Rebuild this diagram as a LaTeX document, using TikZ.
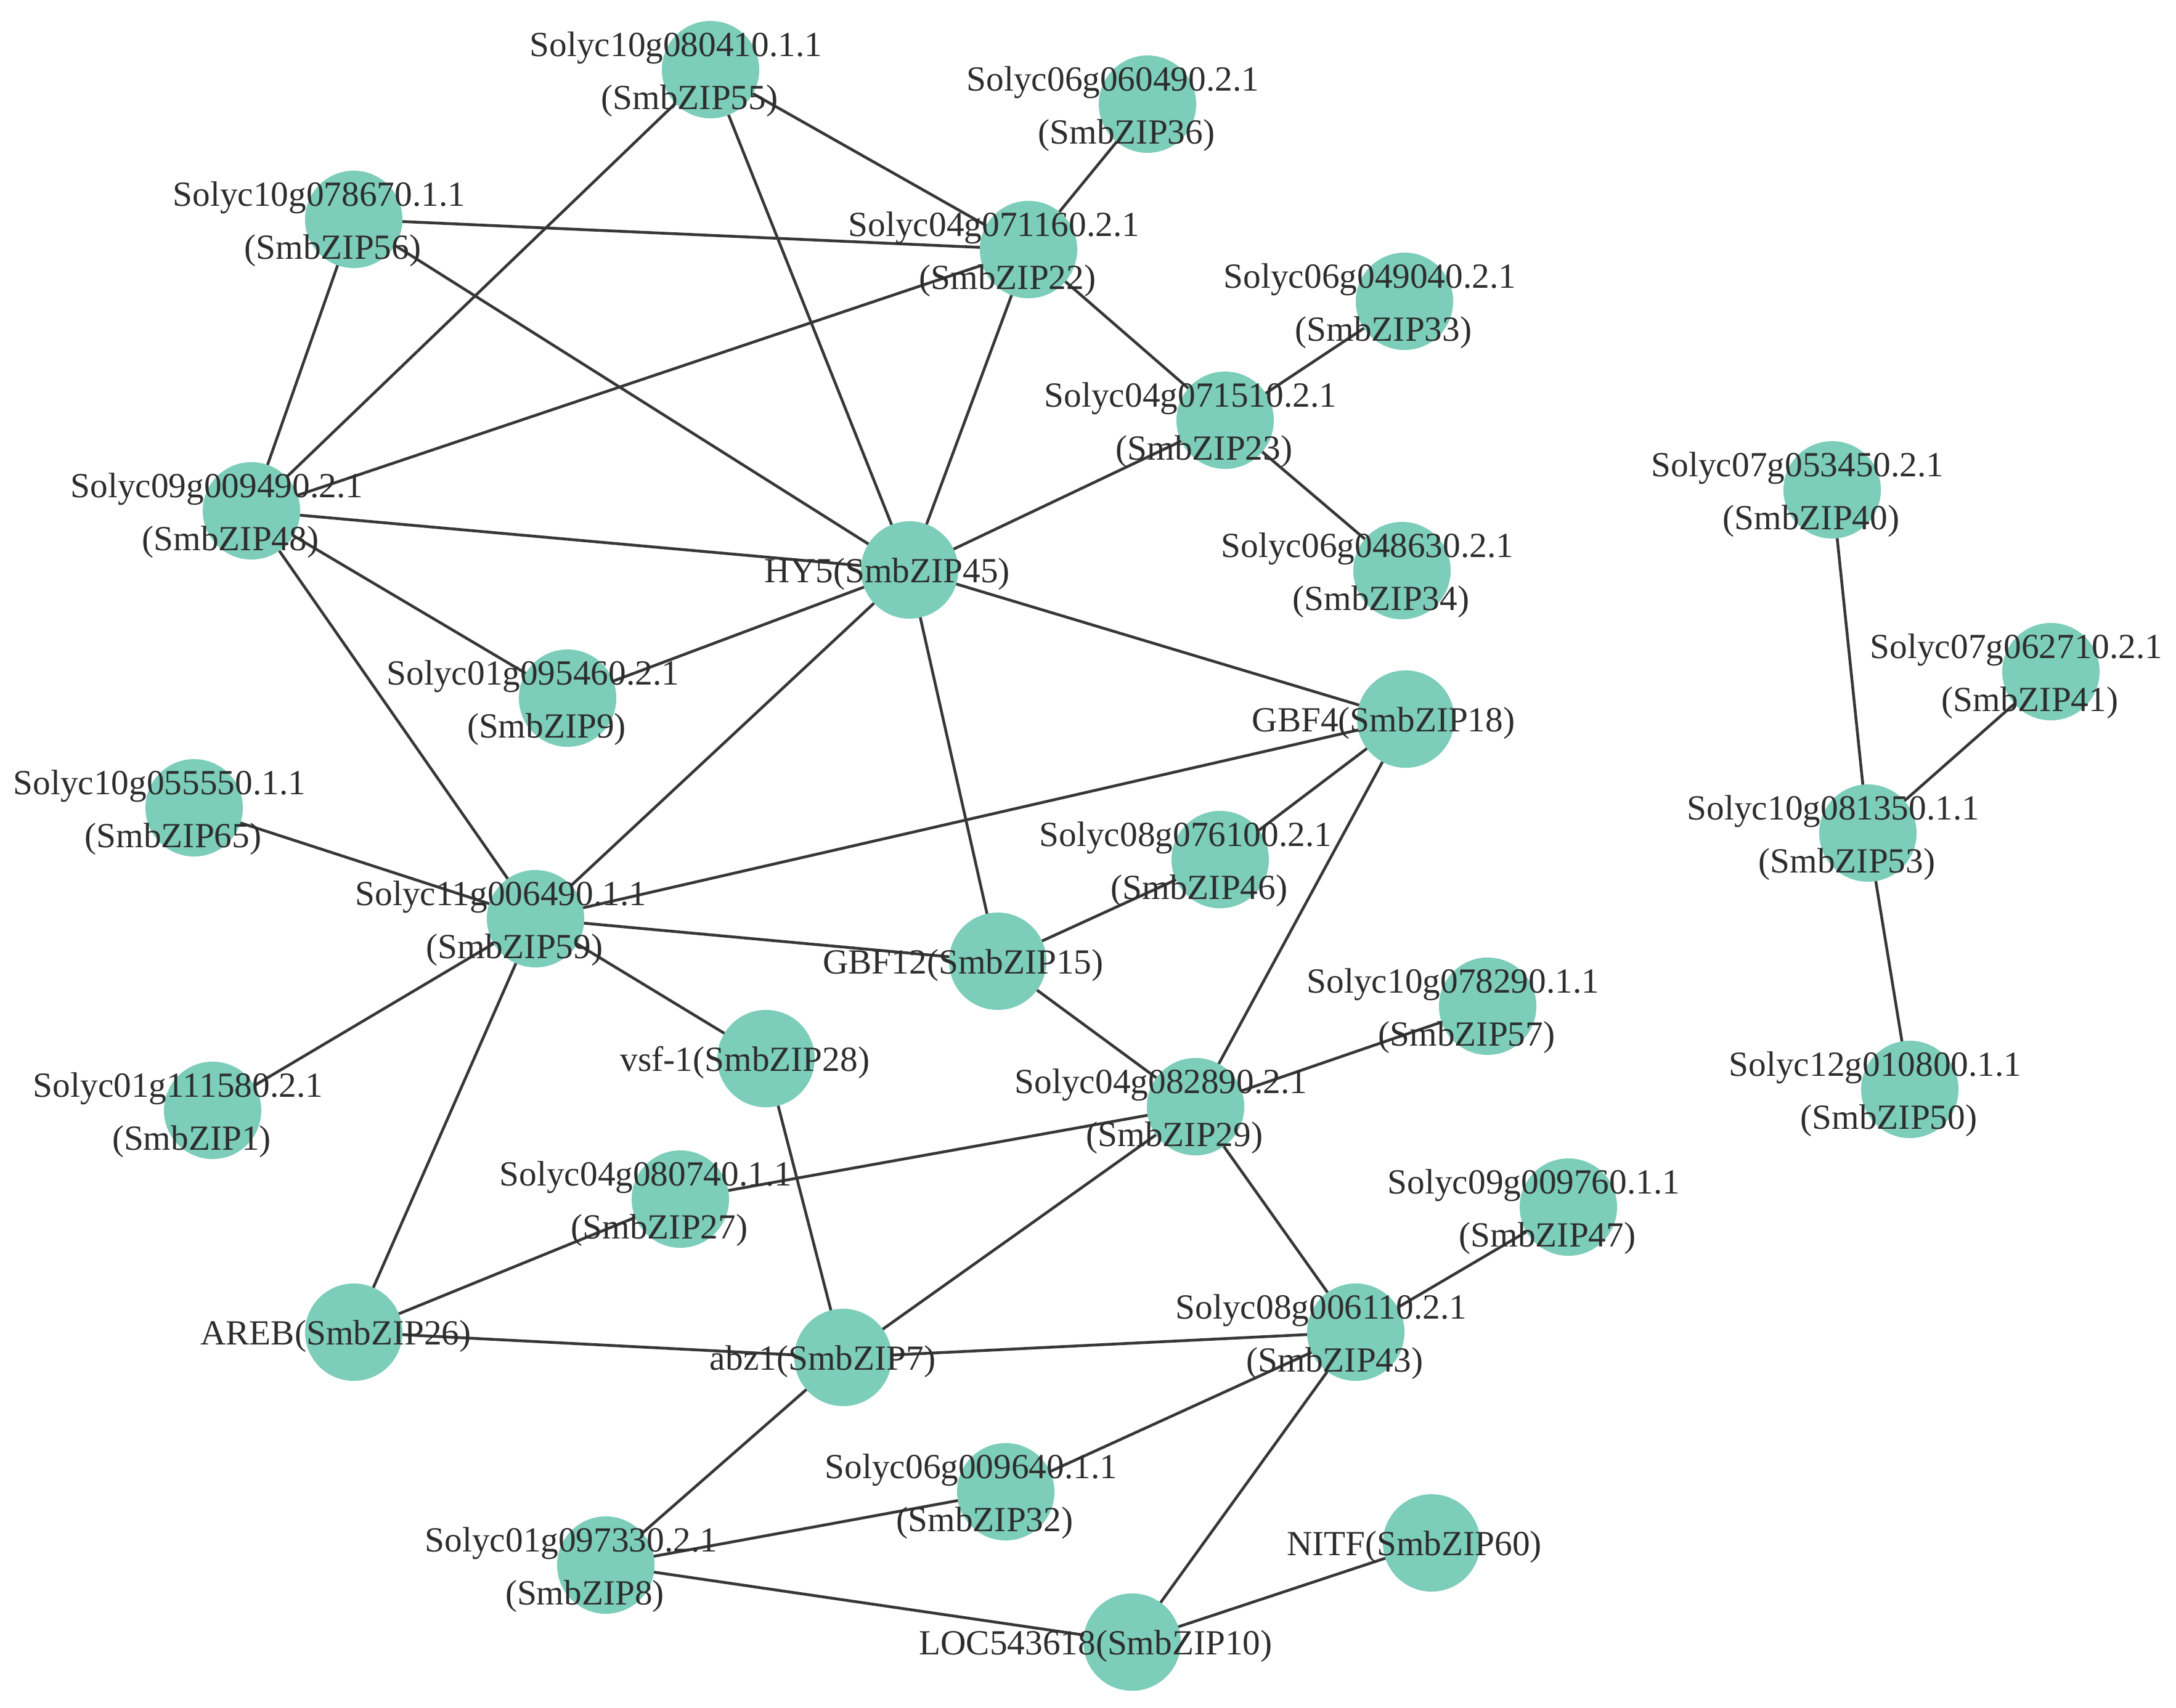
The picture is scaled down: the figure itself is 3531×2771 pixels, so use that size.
\documentclass[tikz,border=0pt]{standalone}
\usepackage{fontspec}
\setmainfont{Liberation Serif}
\pgfdeclarelayer{bg}
\pgfsetlayers{bg,main}
\definecolor{nodefill}{RGB}{124,205,185}
\definecolor{edgecol}{RGB}{55,55,55}
\definecolor{txtcol}{RGB}{45,45,45}
\newcommand{\twoline}[5]{%
  \node[gene] (#1) at (#2,#3) {};
  \node[lbl] (#1a) at (#2-56,#3-22) {#4};
  \node[lbl] (#1b) at (#2-34,#3+64) {#5};}
\newcommand{\oneline}[5]{%
  \node[gene] (#1) at (#2,#3) {};
  \node[lbl] (#1a) at (#4,#3+20) {#5};}
\begin{document}
\begin{tikzpicture}[x=0.01cm,y=-0.01cm,
  gene/.style={circle,fill=nodefill,minimum size=1.58cm,inner sep=0pt},
  edge/.style={draw=edgecol,line width=1.3pt},
  lbl/.style={anchor=base,inner sep=0pt,text=txtcol,font=\fontsize{16.3}{19}\selectfont}]
\useasboundingbox (0,0) rectangle (3531,2771);
\twoline{n55}{1153}{113}{Solyc10g080410.1.1}{(SmbZIP55)}
\twoline{n36}{1862}{169}{Solyc06g060490.2.1}{(SmbZIP36)}
\twoline{n56}{574}{356}{Solyc10g078670.1.1}{(SmbZIP56)}
\twoline{n22}{1669}{405}{Solyc04g071160.2.1}{(SmbZIP22)}
\twoline{n33}{2279}{489}{Solyc06g049040.2.1}{(SmbZIP33)}
\twoline{n23}{1988}{682}{Solyc04g071510.2.1}{(SmbZIP23)}
\twoline{n48}{408}{829}{Solyc09g009490.2.1}{(SmbZIP48)}
\twoline{n34}{2275}{926}{Solyc06g048630.2.1}{(SmbZIP34)}
\twoline{n40}{2973}{795}{Solyc07g053450.2.1}{(SmbZIP40)}
\twoline{n41}{3328}{1090}{Solyc07g062710.2.1}{(SmbZIP41)}
\twoline{n9}{921}{1133}{Solyc01g095460.2.1}{(SmbZIP9)}
\twoline{n65}{315}{1311}{Solyc10g055550.1.1}{(SmbZIP65)}
\twoline{n46}{1980}{1395}{Solyc08g076100.2.1}{(SmbZIP46)}
\twoline{n53}{3031}{1352}{Solyc10g081350.1.1}{(SmbZIP53)}
\twoline{n59}{869}{1491}{Solyc11g006490.1.1}{(SmbZIP59)}
\twoline{n57}{2414}{1633}{Solyc10g078290.1.1}{(SmbZIP57)}
\twoline{n50}{3099}{1768}{Solyc12g010800.1.1}{(SmbZIP50)}
\twoline{n1}{345}{1802}{Solyc01g111580.2.1}{(SmbZIP1)}
\twoline{n29}{1940}{1796}{Solyc04g082890.2.1}{(SmbZIP29)}
\twoline{n27}{1104}{1946}{Solyc04g080740.1.1}{(SmbZIP27)}
\twoline{n47}{2545}{1959}{Solyc09g009760.1.1}{(SmbZIP47)}
\twoline{n43}{2200}{2162}{Solyc08g006110.2.1}{(SmbZIP43)}
\twoline{n32}{1632}{2421}{Solyc06g009640.1.1}{(SmbZIP32)}
\twoline{n8}{983}{2540}{Solyc01g097330.2.1}{(SmbZIP8)}
\oneline{n45}{1476}{925}{1440}{HY5(SmbZIP45)}
\oneline{n18}{2281}{1167}{2245}{GBF4(SmbZIP18)}
\oneline{n15}{1619}{1560}{1563}{GBF12(SmbZIP15)}
\oneline{n28}{1243}{1718}{1209}{vsf-1(SmbZIP28)}
\oneline{n26}{574}{2162}{545}{AREB(SmbZIP26)}
\oneline{n7}{1368}{2203}{1335}{abz1(SmbZIP7)}
\oneline{n60}{2323}{2504}{2295}{NITF(SmbZIP60)}
\oneline{n10}{1837}{2665}{1778}{LOC543618(SmbZIP10)}
\begin{pgfonlayer}{bg}
\foreach \a/\b in {n55/n48,n55/n45,n55/n22,n36/n22,n56/n22,n56/n48,n56/n45,
  n22/n48,n22/n45,n22/n23,n23/n33,n23/n34,n23/n45,n48/n45,n48/n9,n48/n59,
  n9/n45,n45/n59,n45/n18,n45/n15,n18/n59,n18/n46,n18/n29,n46/n15,n65/n59,
  n59/n15,n59/n1,n59/n28,n59/n26,n15/n29,n29/n57,n29/n27,n29/n7,n29/n43,
  n28/n7,n27/n26,n26/n7,n7/n43,n7/n8,n43/n47,n43/n32,n43/n10,n32/n8,
  n8/n10,n10/n60,n40/n53,n41/n53,n53/n50}
  \draw[edge] (\a.center) -- (\b.center);
\end{pgfonlayer}
\end{tikzpicture}
\end{document}
